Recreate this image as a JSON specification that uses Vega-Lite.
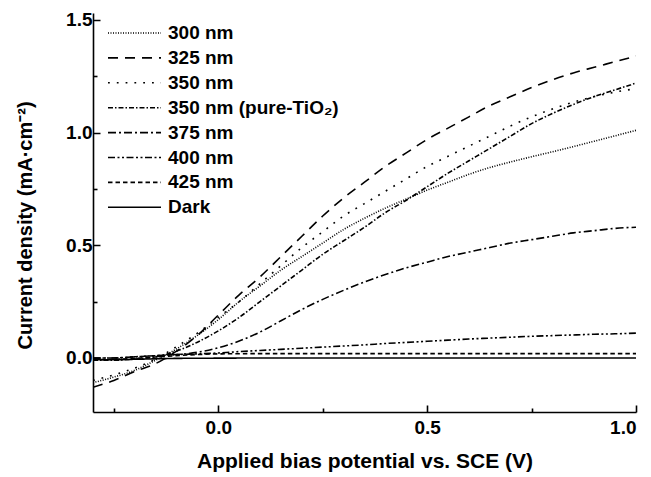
{
  "$schema": "https://vega.github.io/schema/vega-lite/v6.json",
  "width": 543,
  "height": 399,
  "autosize": "none",
  "padding": {"left": 93, "top": 13, "right": 15, "bottom": 65},
  "background": "white",
  "config": {
    "view": {"stroke": null},
    "axis": {
      "grid": false,
      "ticks": true,
      "domainColor": "black",
      "domainWidth": 1.6,
      "tickColor": "black",
      "tickWidth": 1.6,
      "labelColor": "black",
      "labelFont": "Liberation Sans",
      "labelFontWeight": "bold",
      "labelFontSize": 19,
      "titleFont": "Liberation Sans",
      "titleFontWeight": "bold",
      "titleFontSize": 20,
      "titleColor": "black"
    }
  },
  "data": {
    "values": [
      {"x": -0.30, "y": -0.110, "s": "300 nm"}, {"x": -0.25, "y": -0.085, "s": "300 nm"}, {"x": -0.20, "y": -0.055, "s": "300 nm"}, {"x": -0.15, "y": -0.010, "s": "300 nm"}, {"x": -0.10, "y": 0.040, "s": "300 nm"}, {"x": -0.05, "y": 0.100, "s": "300 nm"}, {"x": 0.00, "y": 0.170, "s": "300 nm"}, {"x": 0.05, "y": 0.250, "s": "300 nm"}, {"x": 0.10, "y": 0.320, "s": "300 nm"}, {"x": 0.15, "y": 0.390, "s": "300 nm"}, {"x": 0.20, "y": 0.450, "s": "300 nm"}, {"x": 0.25, "y": 0.510, "s": "300 nm"}, {"x": 0.30, "y": 0.570, "s": "300 nm"}, {"x": 0.35, "y": 0.620, "s": "300 nm"}, {"x": 0.40, "y": 0.665, "s": "300 nm"}, {"x": 0.45, "y": 0.705, "s": "300 nm"}, {"x": 0.50, "y": 0.745, "s": "300 nm"}, {"x": 0.55, "y": 0.780, "s": "300 nm"}, {"x": 0.60, "y": 0.815, "s": "300 nm"}, {"x": 0.65, "y": 0.845, "s": "300 nm"}, {"x": 0.70, "y": 0.870, "s": "300 nm"}, {"x": 0.75, "y": 0.893, "s": "300 nm"}, {"x": 0.80, "y": 0.915, "s": "300 nm"}, {"x": 0.85, "y": 0.938, "s": "300 nm"}, {"x": 0.90, "y": 0.962, "s": "300 nm"}, {"x": 0.95, "y": 0.986, "s": "300 nm"}, {"x": 1.00, "y": 1.010, "s": "300 nm"},

      {"x": -0.30, "y": -0.130, "s": "325 nm"}, {"x": -0.25, "y": -0.100, "s": "325 nm"}, {"x": -0.20, "y": -0.060, "s": "325 nm"}, {"x": -0.15, "y": -0.025, "s": "325 nm"}, {"x": -0.10, "y": 0.030, "s": "325 nm"}, {"x": -0.05, "y": 0.100, "s": "325 nm"}, {"x": 0.00, "y": 0.190, "s": "325 nm"}, {"x": 0.05, "y": 0.280, "s": "325 nm"}, {"x": 0.10, "y": 0.360, "s": "325 nm"}, {"x": 0.15, "y": 0.450, "s": "325 nm"}, {"x": 0.20, "y": 0.540, "s": "325 nm"}, {"x": 0.25, "y": 0.630, "s": "325 nm"}, {"x": 0.30, "y": 0.710, "s": "325 nm"}, {"x": 0.35, "y": 0.780, "s": "325 nm"}, {"x": 0.40, "y": 0.850, "s": "325 nm"}, {"x": 0.45, "y": 0.910, "s": "325 nm"}, {"x": 0.50, "y": 0.970, "s": "325 nm"}, {"x": 0.55, "y": 1.020, "s": "325 nm"}, {"x": 0.60, "y": 1.070, "s": "325 nm"}, {"x": 0.65, "y": 1.120, "s": "325 nm"}, {"x": 0.70, "y": 1.160, "s": "325 nm"}, {"x": 0.75, "y": 1.200, "s": "325 nm"}, {"x": 0.80, "y": 1.235, "s": "325 nm"}, {"x": 0.85, "y": 1.265, "s": "325 nm"}, {"x": 0.90, "y": 1.290, "s": "325 nm"}, {"x": 0.95, "y": 1.315, "s": "325 nm"}, {"x": 1.00, "y": 1.340, "s": "325 nm"},

      {"x": -0.30, "y": -0.100, "s": "350 nm"}, {"x": -0.25, "y": -0.075, "s": "350 nm"}, {"x": -0.20, "y": -0.045, "s": "350 nm"}, {"x": -0.15, "y": -0.005, "s": "350 nm"}, {"x": -0.10, "y": 0.050, "s": "350 nm"}, {"x": -0.05, "y": 0.110, "s": "350 nm"}, {"x": 0.00, "y": 0.180, "s": "350 nm"}, {"x": 0.05, "y": 0.250, "s": "350 nm"}, {"x": 0.10, "y": 0.330, "s": "350 nm"}, {"x": 0.15, "y": 0.410, "s": "350 nm"}, {"x": 0.20, "y": 0.490, "s": "350 nm"}, {"x": 0.25, "y": 0.560, "s": "350 nm"}, {"x": 0.30, "y": 0.630, "s": "350 nm"}, {"x": 0.35, "y": 0.685, "s": "350 nm"}, {"x": 0.40, "y": 0.740, "s": "350 nm"}, {"x": 0.45, "y": 0.795, "s": "350 nm"}, {"x": 0.50, "y": 0.850, "s": "350 nm"}, {"x": 0.55, "y": 0.895, "s": "350 nm"}, {"x": 0.60, "y": 0.940, "s": "350 nm"}, {"x": 0.65, "y": 0.985, "s": "350 nm"}, {"x": 0.70, "y": 1.030, "s": "350 nm"}, {"x": 0.75, "y": 1.070, "s": "350 nm"}, {"x": 0.80, "y": 1.105, "s": "350 nm"}, {"x": 0.85, "y": 1.135, "s": "350 nm"}, {"x": 0.90, "y": 1.160, "s": "350 nm"}, {"x": 0.95, "y": 1.180, "s": "350 nm"}, {"x": 1.00, "y": 1.195, "s": "350 nm"},

      {"x": -0.30, "y": -0.010, "s": "350 nm (pure-TiO₂)"}, {"x": -0.25, "y": -0.010, "s": "350 nm (pure-TiO₂)"}, {"x": -0.20, "y": -0.005, "s": "350 nm (pure-TiO₂)"}, {"x": -0.15, "y": 0.005, "s": "350 nm (pure-TiO₂)"}, {"x": -0.10, "y": 0.030, "s": "350 nm (pure-TiO₂)"}, {"x": -0.05, "y": 0.070, "s": "350 nm (pure-TiO₂)"}, {"x": 0.00, "y": 0.120, "s": "350 nm (pure-TiO₂)"}, {"x": 0.05, "y": 0.180, "s": "350 nm (pure-TiO₂)"}, {"x": 0.10, "y": 0.250, "s": "350 nm (pure-TiO₂)"}, {"x": 0.15, "y": 0.320, "s": "350 nm (pure-TiO₂)"}, {"x": 0.20, "y": 0.390, "s": "350 nm (pure-TiO₂)"}, {"x": 0.25, "y": 0.460, "s": "350 nm (pure-TiO₂)"}, {"x": 0.30, "y": 0.520, "s": "350 nm (pure-TiO₂)"}, {"x": 0.35, "y": 0.580, "s": "350 nm (pure-TiO₂)"}, {"x": 0.40, "y": 0.645, "s": "350 nm (pure-TiO₂)"}, {"x": 0.45, "y": 0.700, "s": "350 nm (pure-TiO₂)"}, {"x": 0.50, "y": 0.760, "s": "350 nm (pure-TiO₂)"}, {"x": 0.55, "y": 0.820, "s": "350 nm (pure-TiO₂)"}, {"x": 0.60, "y": 0.875, "s": "350 nm (pure-TiO₂)"}, {"x": 0.65, "y": 0.930, "s": "350 nm (pure-TiO₂)"}, {"x": 0.70, "y": 0.985, "s": "350 nm (pure-TiO₂)"}, {"x": 0.75, "y": 1.040, "s": "350 nm (pure-TiO₂)"}, {"x": 0.80, "y": 1.085, "s": "350 nm (pure-TiO₂)"}, {"x": 0.85, "y": 1.125, "s": "350 nm (pure-TiO₂)"}, {"x": 0.90, "y": 1.160, "s": "350 nm (pure-TiO₂)"}, {"x": 0.95, "y": 1.190, "s": "350 nm (pure-TiO₂)"}, {"x": 1.00, "y": 1.220, "s": "350 nm (pure-TiO₂)"},

      {"x": -0.30, "y": 0.000, "s": "375 nm"}, {"x": -0.25, "y": 0.000, "s": "375 nm"}, {"x": -0.20, "y": 0.005, "s": "375 nm"}, {"x": -0.15, "y": 0.010, "s": "375 nm"}, {"x": -0.10, "y": 0.015, "s": "375 nm"}, {"x": -0.05, "y": 0.025, "s": "375 nm"}, {"x": 0.00, "y": 0.045, "s": "375 nm"}, {"x": 0.05, "y": 0.075, "s": "375 nm"}, {"x": 0.10, "y": 0.115, "s": "375 nm"}, {"x": 0.15, "y": 0.165, "s": "375 nm"}, {"x": 0.20, "y": 0.215, "s": "375 nm"}, {"x": 0.25, "y": 0.260, "s": "375 nm"}, {"x": 0.30, "y": 0.300, "s": "375 nm"}, {"x": 0.35, "y": 0.337, "s": "375 nm"}, {"x": 0.40, "y": 0.370, "s": "375 nm"}, {"x": 0.45, "y": 0.400, "s": "375 nm"}, {"x": 0.50, "y": 0.425, "s": "375 nm"}, {"x": 0.55, "y": 0.450, "s": "375 nm"}, {"x": 0.60, "y": 0.470, "s": "375 nm"}, {"x": 0.65, "y": 0.490, "s": "375 nm"}, {"x": 0.70, "y": 0.510, "s": "375 nm"}, {"x": 0.75, "y": 0.525, "s": "375 nm"}, {"x": 0.80, "y": 0.540, "s": "375 nm"}, {"x": 0.85, "y": 0.555, "s": "375 nm"}, {"x": 0.90, "y": 0.565, "s": "375 nm"}, {"x": 0.95, "y": 0.575, "s": "375 nm"}, {"x": 1.00, "y": 0.580, "s": "375 nm"},

      {"x": -0.30, "y": 0.000, "s": "400 nm"}, {"x": -0.25, "y": 0.000, "s": "400 nm"}, {"x": -0.20, "y": 0.005, "s": "400 nm"}, {"x": -0.15, "y": 0.010, "s": "400 nm"}, {"x": -0.10, "y": 0.015, "s": "400 nm"}, {"x": -0.05, "y": 0.018, "s": "400 nm"}, {"x": 0.00, "y": 0.022, "s": "400 nm"}, {"x": 0.05, "y": 0.028, "s": "400 nm"}, {"x": 0.10, "y": 0.033, "s": "400 nm"}, {"x": 0.15, "y": 0.038, "s": "400 nm"}, {"x": 0.20, "y": 0.043, "s": "400 nm"}, {"x": 0.25, "y": 0.048, "s": "400 nm"}, {"x": 0.30, "y": 0.053, "s": "400 nm"}, {"x": 0.35, "y": 0.058, "s": "400 nm"}, {"x": 0.40, "y": 0.064, "s": "400 nm"}, {"x": 0.45, "y": 0.069, "s": "400 nm"}, {"x": 0.50, "y": 0.074, "s": "400 nm"}, {"x": 0.55, "y": 0.079, "s": "400 nm"}, {"x": 0.60, "y": 0.084, "s": "400 nm"}, {"x": 0.65, "y": 0.088, "s": "400 nm"}, {"x": 0.70, "y": 0.092, "s": "400 nm"}, {"x": 0.75, "y": 0.096, "s": "400 nm"}, {"x": 0.80, "y": 0.099, "s": "400 nm"}, {"x": 0.85, "y": 0.102, "s": "400 nm"}, {"x": 0.90, "y": 0.105, "s": "400 nm"}, {"x": 0.95, "y": 0.107, "s": "400 nm"}, {"x": 1.00, "y": 0.110, "s": "400 nm"},

      {"x": -0.30, "y": -0.008, "s": "425 nm"}, {"x": -0.25, "y": -0.006, "s": "425 nm"}, {"x": -0.20, "y": -0.002, "s": "425 nm"}, {"x": -0.15, "y": 0.004, "s": "425 nm"}, {"x": -0.10, "y": 0.010, "s": "425 nm"}, {"x": -0.05, "y": 0.015, "s": "425 nm"}, {"x": 0.00, "y": 0.018, "s": "425 nm"}, {"x": 0.10, "y": 0.019, "s": "425 nm"}, {"x": 0.20, "y": 0.019, "s": "425 nm"}, {"x": 0.30, "y": 0.019, "s": "425 nm"}, {"x": 0.40, "y": 0.019, "s": "425 nm"}, {"x": 0.50, "y": 0.019, "s": "425 nm"}, {"x": 0.60, "y": 0.019, "s": "425 nm"}, {"x": 0.70, "y": 0.019, "s": "425 nm"}, {"x": 0.80, "y": 0.019, "s": "425 nm"}, {"x": 0.90, "y": 0.019, "s": "425 nm"}, {"x": 1.00, "y": 0.019, "s": "425 nm"},

      {"x": -0.30, "y": -0.008, "s": "Dark"}, {"x": -0.25, "y": -0.008, "s": "Dark"}, {"x": -0.20, "y": -0.006, "s": "Dark"}, {"x": -0.15, "y": -0.004, "s": "Dark"}, {"x": -0.10, "y": -0.002, "s": "Dark"}, {"x": 0.00, "y": -0.001, "s": "Dark"}, {"x": 0.20, "y": 0.000, "s": "Dark"}, {"x": 0.40, "y": 0.000, "s": "Dark"}, {"x": 0.60, "y": 0.000, "s": "Dark"}, {"x": 0.80, "y": 0.000, "s": "Dark"}, {"x": 1.00, "y": 0.000, "s": "Dark"}
    ]
  },
  "mark": {"type": "line", "color": "black", "strokeWidth": 1.6, "clip": true, "interpolate": "monotone"},
  "encoding": {
    "x": {
      "field": "x",
      "type": "quantitative",
      "scale": {"domain": [-0.3, 1.0], "nice": false, "zero": false},
      "axis": {
        "title": "Applied bias potential vs. SCE (V)",
        "titleFontSize": 21,
        "values": [-0.25, 0, 0.25, 0.5, 0.75, 1.0],
        "labelExpr": "abs(round(datum.value*4))%2==0 ? format(datum.value,'.1f') : ''",
        "tickSize": -7,
        "tickDash": {"condition": {"test": "abs(round(datum.value*4))%2==0", "value": [1, 0]}, "value": [4, 20]},
        "labelPadding": 13,
        "titlePadding": 13
      }
    },
    "y": {
      "field": "y",
      "type": "quantitative",
      "scale": {"domain": [-0.24, 1.531], "nice": false, "zero": false},
      "axis": {
        "title": "Current density (mA·cm⁻²)",
        "titleY": 212,
        "values": [0, 0.25, 0.5, 0.75, 1.0, 1.25, 1.5],
        "labelExpr": "abs(round(datum.value*4))%2==0 ? format(datum.value,'.1f') : ''",
        "tickSize": -7,
        "tickDash": {"condition": {"test": "abs(round(datum.value*4))%2==0", "value": [1, 0]}, "value": [4, 20]},
        "labelPadding": 8,
        "titlePadding": 30
      }
    },
    "strokeDash": {
      "field": "s",
      "type": "nominal",
      "scale": {
        "domain": ["300 nm", "325 nm", "350 nm", "350 nm (pure-TiO₂)", "375 nm", "400 nm", "425 nm", "Dark"],
        "range": [[1, 1.5], [10, 7], [1.8, 7], [5, 2, 1.5, 2], [8, 3, 2, 3], [7, 2.5, 2, 2.5, 2, 2.5], [4.5, 3], [1, 0]]
      },
      "legend": {
        "title": null,
        "orient": "none",
        "legendX": 14,
        "legendY": 10.5,
        "symbolType": "stroke",
        "symbolSize": 2809,
        "symbolStrokeColor": "black",
        "symbolStrokeWidth": 1.6,
        "labelFont": "Liberation Sans",
        "labelFontWeight": "bold",
        "labelFontSize": 19,
        "labelColor": "black",
        "labelOffset": 6,
        "labelLimit": 300,
        "clipHeight": 19,
        "rowPadding": 4.9
      }
    }
  }
}
